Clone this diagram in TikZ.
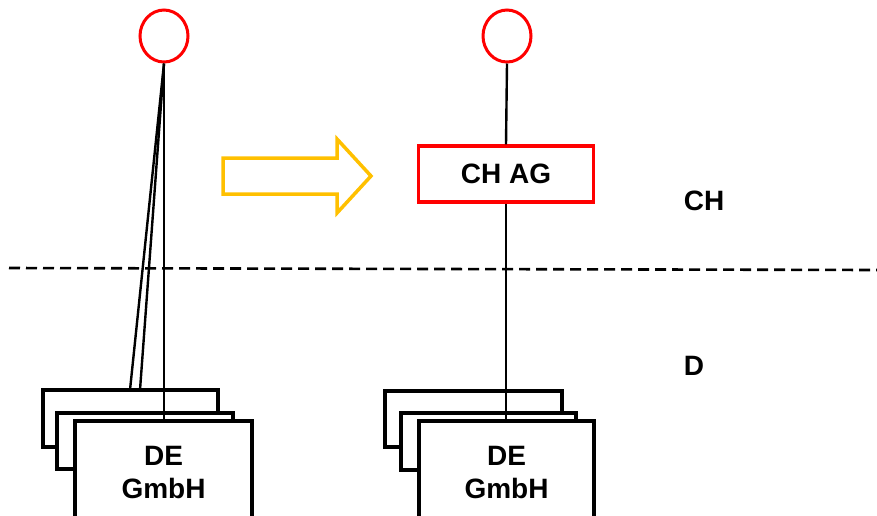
\documentclass[tikz,border=0pt]{standalone}
\usepackage{fontspec}
\setmainfont{Liberation Sans}
\usetikzlibrary{shapes.geometric}
\definecolor{gold}{HTML}{FFC000}
\definecolor{redc}{HTML}{FF0000}
\tikzset{
  redcirc/.style={ellipse,draw=redc,line width=3pt,minimum width=48pt,minimum height=52pt,inner sep=0pt},
  entity/.style={rectangle,draw=black,fill=white,line width=3.2pt,inner sep=0pt},
  hold/.style={rectangle,draw=redc,fill=white,line width=3.2pt,inner sep=0pt,minimum width=175pt,minimum height=56pt,font=\fontsize{28}{34}\selectfont\bfseries},
  conn/.style={draw=black,line width=2.4pt},
  lbl/.style={font=\fontsize{28}{34}\selectfont\bfseries,inner sep=0pt},
  border/.style={line width=2.6pt,dash pattern=on 11pt off 6pt},
  bigarrow/.style={draw=gold,line width=3.5pt,line join=miter}
}
\begin{document}
\begin{tikzpicture}[x=1pt,y=-1pt]
\useasboundingbox (0,0) rectangle (877,515);
% border line
\draw[border] (9,268) -- (877,270);
% left stack
\node[entity,minimum width=175pt,minimum height=57pt] (lb) at (130.5,418.5) {};
\node[entity,minimum width=176pt,minimum height=56pt] (lm) at (145,441) {};
\node[entity,minimum width=177pt,minimum height=102pt,align=center,font=\fontsize{28}{34}\selectfont\bfseries] (lf) at (163.5,472) {DE\\[-1pt]GmbH};
% right stack
\node[entity,minimum width=177pt,minimum height=56pt] (rb) at (473.5,419) {};
\node[entity,minimum width=175pt,minimum height=57pt] (rm) at (488.5,441.5) {};
\node[entity,minimum width=175pt,minimum height=102pt,align=center,font=\fontsize{28}{34}\selectfont\bfseries] (rf) at (506.5,472) {DE\\[-1pt]GmbH};
% circles
\node[redcirc] (lc) at (164,36) {};
\node[redcirc] (rc) at (507,36) {};
% holding
\node[hold] (ch) at (506,174) {CH AG};
% left connectors
\coordinate (la) at (130,390);
\coordinate (lb2) at (140,390);
\draw[conn] (lc.south) -- (la);
\draw[conn] (lc.south) -- (lb2);
\draw[conn] (lc.south) -- (lc.south |- lf.north);
% right connectors
\draw[conn] (rc.south) -- (ch.north);
\draw[conn] (ch.south) -- (ch.south |- rf.north);
% arrow
\draw[bigarrow] (223,158) -- (337,158) -- (337,139) -- (371,176) -- (337,213) -- (337,194) -- (223,194) -- cycle;
% region labels
\node[lbl] (lch) at (704,201) {CH};
\node[lbl] (ld) at (694,366) {D};
\end{tikzpicture}
\end{document}
